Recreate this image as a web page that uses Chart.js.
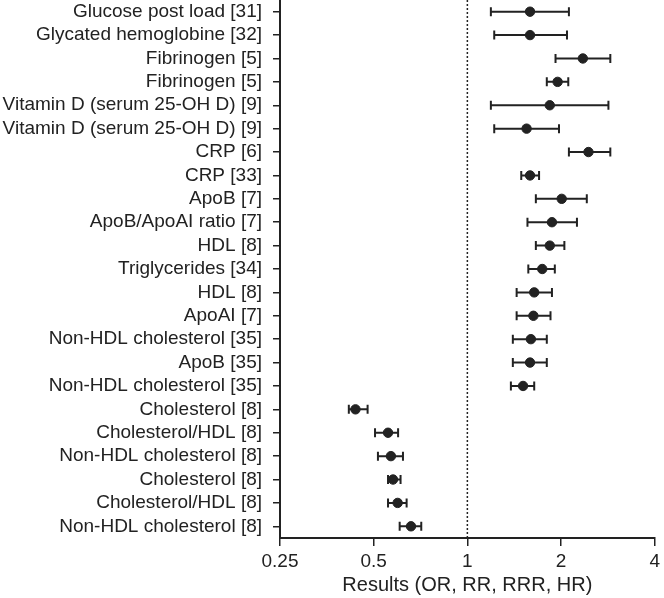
<!DOCTYPE html>
<html lang="en">
<head>
  <meta charset="UTF-8">
  <title>Forest plot</title>
  <script src="https://cdn.jsdelivr.net/npm/chart.js"></script>
  <style>
    body { margin: 0; background: #fff; }
  </style>
</head>
<body>
  <canvas id="forest" width="664" height="598"></canvas>
  <script>
  // studies, top to bottom
  const labels = [
    'Glucose post load [31]',
    'Glycated hemoglobine [32]',
    'Fibrinogen [5]',
    'Fibrinogen [5]',
    'Vitamin D (serum 25-OH D) [9]',
    'Vitamin D (serum 25-OH D) [9]',
    'CRP [6]',
    'CRP [33]',
    'ApoB [7]',
    'ApoB/ApoAI ratio [7]',
    'HDL [8]',
    'Triglycerides [34]',
    'HDL [8]',
    'ApoAI [7]',
    'Non-HDL cholesterol [35]',
    'ApoB [35]',
    'Non-HDL cholesterol [35]',
    'Cholesterol [8]',
    'Cholesterol/HDL [8]',
    'Non-HDL cholesterol [8]',
    'Cholesterol [8]',
    'Cholesterol/HDL [8]',
    'Non-HDL cholesterol [8]'
  ];
  const estimate = [1.59, 1.59, 2.35, 1.95, 1.84, 1.55, 2.45, 1.59, 2.01, 1.87, 1.84, 1.74,
                    1.64, 1.63, 1.60, 1.59, 1.51, 0.437, 0.556, 0.568, 0.577, 0.597, 0.659];
  const lower    = [1.19, 1.22, 1.92, 1.80, 1.19, 1.22, 2.12, 1.49, 1.66, 1.56, 1.66, 1.57,
                    1.44, 1.44, 1.40, 1.40, 1.38, 0.416, 0.505, 0.516, 0.556, 0.556, 0.606];
  const upper    = [2.12, 2.09, 2.88, 2.11, 2.84, 1.97, 2.88, 1.70, 2.42, 2.25, 2.05, 1.91,
                    1.87, 1.85, 1.80, 1.80, 1.64, 0.478, 0.599, 0.621, 0.610, 0.638, 0.711];
  const xTicks = [0.25, 0.5, 1, 2, 4];
  const refValue = 1;

  const ink = '#222';
  const font = 'Liberation Sans, Arial, sans-serif';

  // whiskers + dotted reference line
  const forestPlugin = {
    id: 'forest',
    beforeDatasetsDraw(chart) {
      const { ctx, chartArea, scales: { x, y } } = chart;
      ctx.save();
      ctx.strokeStyle = ink;
      ctx.lineWidth = 1.5;
      ctx.setLineDash([2, 2]);
      const rx = x.getPixelForValue(refValue);
      ctx.beginPath();
      ctx.moveTo(rx, chartArea.top);
      ctx.lineTo(rx, chartArea.bottom);
      ctx.stroke();
      ctx.setLineDash([]);
      ctx.lineWidth = 2;
      labels.forEach((_, i) => {
        const py = y.getPixelForValue(i);
        const x1 = x.getPixelForValue(lower[i]);
        const x2 = x.getPixelForValue(upper[i]);
        ctx.beginPath();
        ctx.moveTo(x1, py); ctx.lineTo(x2, py);
        ctx.moveTo(x1, py - 4.5); ctx.lineTo(x1, py + 4.5);
        ctx.moveTo(x2, py - 4.5); ctx.lineTo(x2, py + 4.5);
        ctx.stroke();
      });
      ctx.restore();
    }
  };

  new Chart(document.getElementById('forest'), {
    type: 'scatter',
    data: {
      datasets: [{
        data: estimate.map((v, i) => ({ x: v, y: i })),
        backgroundColor: ink,
        borderColor: ink,
        pointRadius: 4.7,
        pointHoverRadius: 4.7
      }]
    },
    options: {
      responsive: false,
      animation: false,
      layout: { padding: 0, autoPadding: false },
      plugins: { legend: { display: false }, tooltip: { enabled: false } },
      scales: {
        x: {
          type: 'logarithmic',
          min: 0.25,
          max: 4,
          afterBuildTicks: s => { s.ticks = xTicks.map(v => ({ value: v })); },
          afterFit: s => { s.height = 60; },
          grid: { drawOnChartArea: false, color: ink, lineWidth: 1.5, tickLength: 8 },
          border: { color: ink, width: 2 },
          ticks: {
            color: ink,
            padding: 4,
            maxRotation: 0,
            font: { family: font, size: 19 },
            callback: v => String(v)
          },
          title: {
            display: true,
            text: 'Results (OR, RR, RRR, HR)',
            color: ink,
            padding: { top: 0, bottom: 1 },
            font: { family: font, size: 20 }
          }
        },
        y: {
          type: 'linear',
          reverse: true,
          min: -0.5,
          max: labels.length - 0.5,
          afterBuildTicks: s => { s.ticks = labels.map((_, i) => ({ value: i })); },
          afterFit: s => { s.width = 280; s.paddingTop = 0; s.paddingBottom = 0; },
          grid: { drawOnChartArea: false, color: ink, lineWidth: 1.5, tickLength: 7 },
          border: { color: ink, width: 2 },
          ticks: {
            color: ink,
            padding: 11,
            autoSkip: false,
            font: { family: font, size: 19 },
            callback: v => labels[v]
          }
        }
      }
    },
    plugins: [forestPlugin]
  });
  </script>
</body>
</html>
